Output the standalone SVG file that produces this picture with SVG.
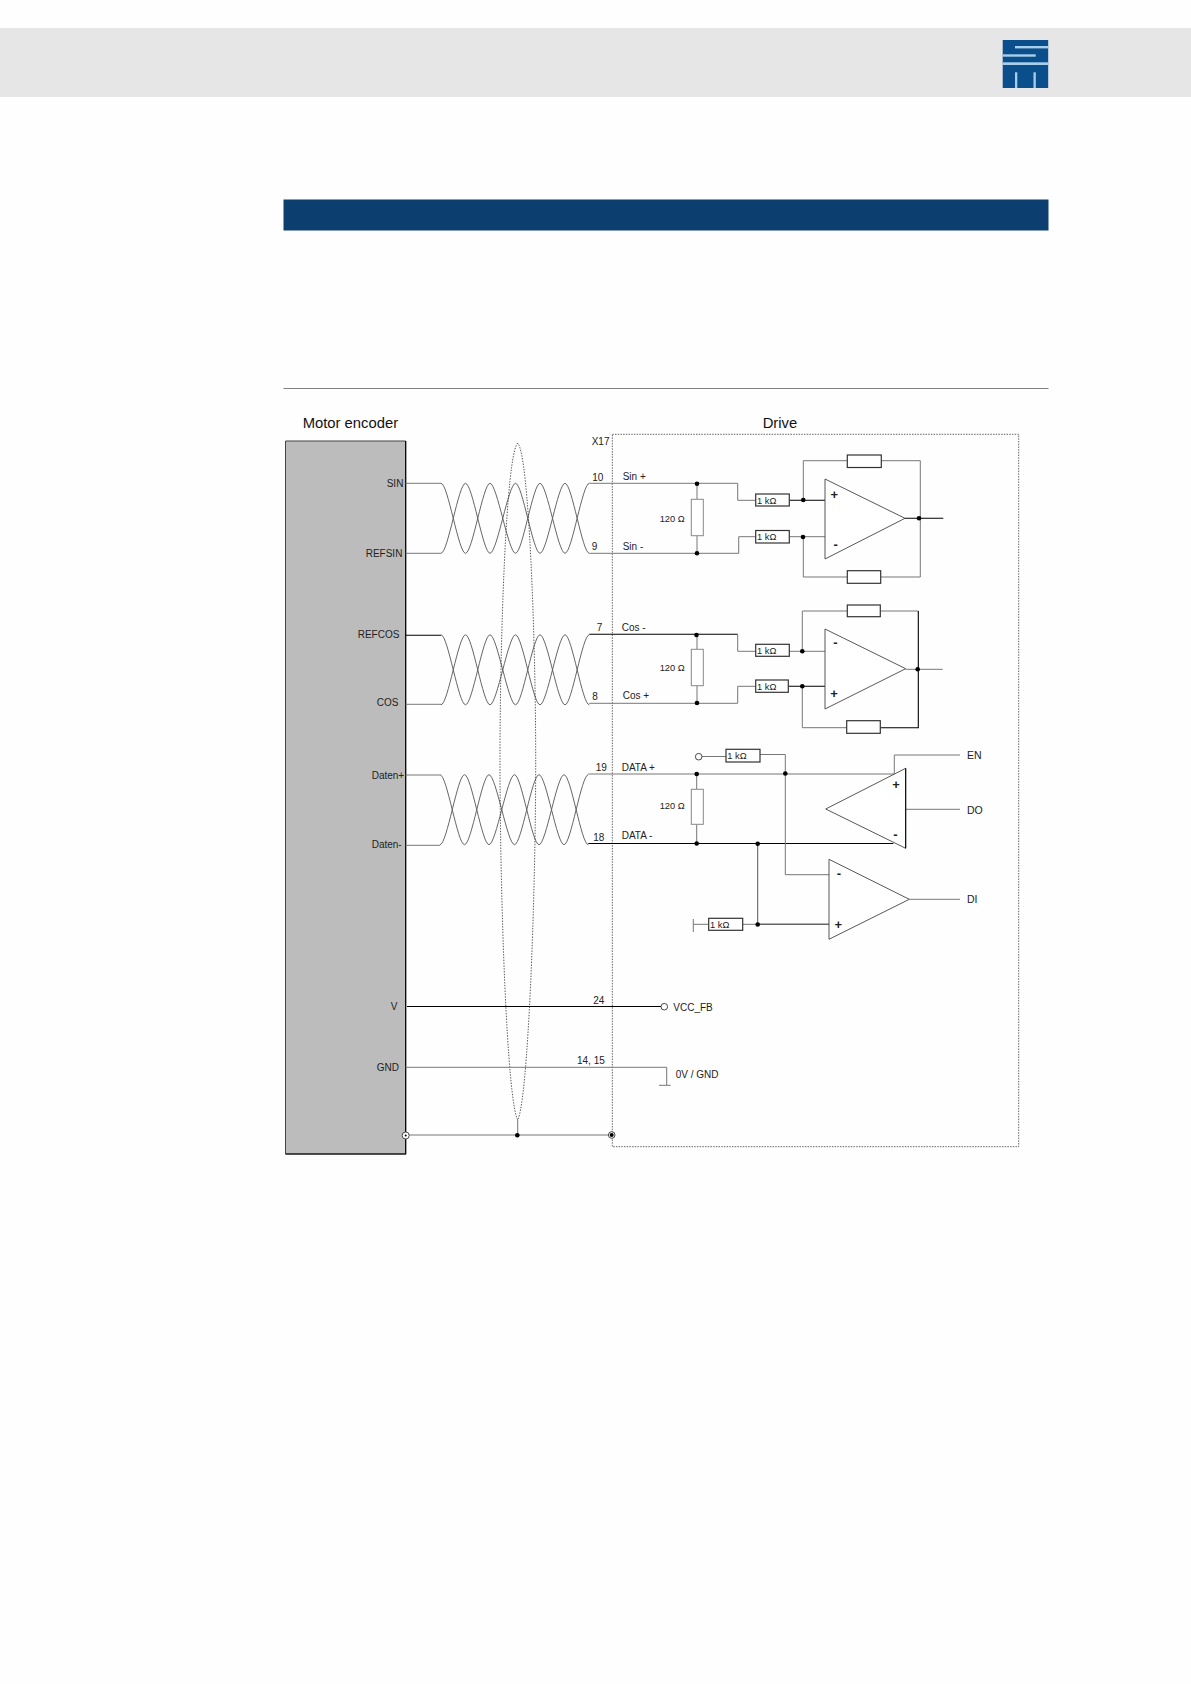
<svg xmlns="http://www.w3.org/2000/svg" width="1191" height="1684" viewBox="0 0 1191 1684">
<defs>
<style>
text{font-family:"Liberation Sans",Arial,sans-serif;font-size:10px;fill:#222}
.t{font-size:14.800px;fill:#111}
.s{font-size:9.300px}
.l{font-size:10.500px}
.b{font-size:13px;font-weight:bold;fill:#222}
.w,.g,.k,.tw,.sh,.sd{fill:none}
.w{stroke:#555;stroke-width:1}
.g{stroke:#777;stroke-width:1}
.k{stroke:#000;stroke-width:1.1}
.tw{stroke:#555;stroke-width:.9}
.sh{stroke:#444;stroke-width:.9;stroke-dasharray:1.4 1.4}
.sd{stroke:#555;stroke-width:.9;stroke-dasharray:1.5 1.2}
.r{fill:#fff;stroke:#333;stroke-width:1.2}
.r1{fill:#fff;stroke:#888;stroke-width:1}
.tri{fill:#fff;stroke:#444;stroke-width:.9}
.d{fill:#000}
.o{fill:#fff;stroke:#333;stroke-width:.9}
.lg{fill:#a8cfea}
</style>
<path id="twist" d="M0 0C7 0 17.500 70 24.500 70S42 0 49 0S67.500 70 74.500 70S92 0 99 0S117 70 124 70S141.300 0 148.300 0"/>
<path id="twist2" d="M0 70C7 70 17.500 0 24.500 0S42 70 49 70S67.500 0 74.500 0S92 70 99 70S117 0 124 0S141.300 70 148.300 70"/>
</defs>
<rect width="1191" height="1684" fill="#fefefe"/>
<g id="header">
<rect y="28" width="1191" height="69" fill="#e6e6e6"/>
<g id="logo">
<rect x="1002.700" y="40" width="45.500" height="48" fill="#0a4f8c"/>
<rect class="lg" x="1015" y="46" width="33.200" height="2.400"/>
<rect class="lg" x="1002.700" y="54.300" width="33" height="2.400"/>
<rect class="lg" x="1002.700" y="62.300" width="45.500" height="2.700"/>
<rect class="lg" x="1015" y="72.300" width="2.300" height="15.700"/>
<rect class="lg" x="1033.500" y="72.300" width="2.300" height="15.700"/>
</g>
</g>
<rect id="title-bar" x="283.500" y="199.500" width="765" height="31" fill="#0c3f70"/>
<line id="rule" x1="283.500" y1="388.500" x2="1048.500" y2="388.500" stroke="#808080" stroke-width="1"/>
<g id="motor-encoder">
<rect x="285.500" y="441" width="120.200" height="713" fill="#bcbcbc"/>
<path d="M285.500 1154V441H405.700V1154H285.500" fill="none" stroke="#444" stroke-width="1"/>
<path d="M405.700 441V1154H285.500" fill="none" stroke="#000" stroke-width="1.100"/>
<text class="t" x="302.700" y="428">Motor encoder</text>
<text x="386.700" y="486.700">SIN</text>
<text x="365.700" y="556.700">REFSIN</text>
<text x="357.700" y="638.300">REFCOS</text>
<text x="376.700" y="706">COS</text>
<text x="371.700" y="779">Daten+</text>
<text x="371.700" y="848">Daten-</text>
<text x="390.700" y="1010">V</text>
<text x="376.700" y="1071">GND</text>
</g>
<g id="drive">
<rect x="612.300" y="434.300" width="406.400" height="712.400" class="sd"/>
<text class="t" x="762.700" y="428">Drive</text>
<text x="591.700" y="445">X17</text>
</g>
<g id="connectors">
<g id="twisted-pairs">
<use href="#twist" x="441" y="483.300" class="tw"/><use href="#twist2" x="441" y="483.300" class="tw"/>
<use href="#twist" x="441" y="634.800" class="tw"/><use href="#twist2" x="441" y="634.800" class="tw"/>
<use href="#twist" x="440" y="774.700" class="tw"/><use href="#twist2" x="440" y="774.700" class="tw"/>
</g>
<path class="sh" d="M517.700 443C506 455 500 640 500 760C500 900 507 1100 517.700 1120C528 1100 535.700 900 535.700 760C535.700 640 529 455 517.700 443"/>
<path class="g" d="M517.700 1120V1135"/>
<path class="g" d="M405.700 483.300H441M589.300 483.300H737.700V500.300H755.700M405.700 553.300H441M589.300 553.300H738.700V536.700H755.700"/>
<path class="k" d="M405.700 635.300H441"/>
<path class="k" d="M589.300 634.300H737.700"/>
<path class="g" d="M737.700 634.300V651.300H755.700"/>
<path class="g" d="M405.700 704.300H441M589.300 703.300H737.700V686.300H755.700"/>
<path class="g" d="M405.700 775H440M405.700 845.300H440"/>
<path class="g" d="M588.300 774H894.300"/>
<path class="k" d="M588.300 843.500H893.300"/>
<path class="k" d="M407 1006.500H661"/>
<path class="g" d="M405.700 1067.300H666.700V1085.300M659 1085.300H670.700"/>
<path class="g" d="M405.700 1135H612"/>
<path class="g" d="M697 483.700V499.300M697 535.700V553.300M697 635V649.300M697 685.700V703M696.700 774V789.300M696.700 824.300V843.500"/>
<path class="k" d="M789.300 500.300H825"/>
<path class="g" d="M789.300 536.700H825"/>
<path class="g" d="M803.300 500.300V460.700H847.300M881.300 460.700H920.300V577H880.700M847.300 577H803.300V536.700"/>
<path class="k" d="M905 518.300H943.300"/>
<path class="g" d="M789.300 651.300H825"/>
<path class="k" d="M788.300 686.300H825"/>
<path class="g" d="M802.300 651.300V611H847.300M880.300 611H918.300"/>
<path class="k" d="M918.300 611V727.700H880.300"/>
<path class="g" d="M846.700 727.700H802.300V686.300"/>
<path class="g" d="M905.700 669.300H942.700"/>
<path class="g" d="M702 756.500H726M760 754.500H785.300V874.700H829"/>
<path class="g" d="M894.300 774V755H960M905.700 809.300H960M909.300 899.300H960"/>
<path class="w" d="M757.700 843.700V924.300"/>
<path d="M757.700 924.300H829" fill="none" stroke="#666" stroke-width="1.600"/>
<path class="g" d="M693.300 924.300H708.700M742.700 924.300H757.700M693.300 919V932"/>
</g>
<g id="term-1"><rect class="r1" x="691.300" y="499.300" width="12" height="36.400"/><text class="s" x="659.700" y="521.700">120 Ω</text><circle class="d" cx="697" cy="483.700" r="2.300"/><circle class="d" cx="697" cy="553.300" r="2.300"/></g>
<g id="term-2"><rect class="r1" x="691.300" y="649.300" width="12" height="36.400"/><text class="s" x="659.700" y="670.700">120 Ω</text><circle class="d" cx="696.500" cy="635" r="2.300"/><circle class="d" cx="697" cy="703" r="2.300"/></g>
<g id="term-3"><rect class="r1" x="691.300" y="789.300" width="12" height="35"/><text class="s" x="659.700" y="809.300">120 Ω</text><circle class="d" cx="696.700" cy="774" r="2.300"/><circle class="d" cx="696.700" cy="843.500" r="2.300"/></g>
<g id="amp-sin">
<polygon class="tri" points="825,479 825,559 905,518.300"/>
<text class="b" x="834.300" y="499" text-anchor="middle">+</text><text class="b" x="835.700" y="549" text-anchor="middle">-</text>
<rect class="r" x="755.700" y="494" width="33.600" height="12"/><text class="s" x="757" y="503.500">1 kΩ</text>
<rect class="r" x="755.700" y="530.500" width="33.600" height="12.500"/><text class="s" x="757" y="540.300">1 kΩ</text>
<rect class="r" x="847.300" y="455" width="34" height="12.500"/>
<rect class="r" x="847.300" y="570.700" width="33.400" height="12.600"/>
<circle class="d" cx="803.300" cy="500" r="2.300"/><circle class="d" cx="803" cy="537" r="2.300"/><circle class="d" cx="919" cy="518.300" r="2.300"/>
</g>
<g id="amp-cos">
<polygon class="tri" points="825,629 825,709 905.700,668.700"/>
<text class="b" x="835.300" y="647" text-anchor="middle">-</text><text class="b" x="834" y="698" text-anchor="middle">+</text>
<rect class="r" x="755.700" y="644.300" width="33.600" height="12"/><text class="s" x="757" y="653.800">1 kΩ</text>
<rect class="r" x="755.700" y="680" width="32.600" height="12.300"/><text class="s" x="757" y="689.500">1 kΩ</text>
<rect class="r" x="847.300" y="605" width="33" height="11.700"/>
<rect class="r" x="846.700" y="720.700" width="33.600" height="12.600"/>
<circle class="d" cx="802.300" cy="651.300" r="2.300"/><circle class="d" cx="802.300" cy="686.300" r="2.300"/><circle class="d" cx="917.700" cy="669.300" r="2.300"/>
</g>
<g id="amp-do">
<polygon class="tri" points="905.700,768.300 905.700,848.300 825.700,809"/>
<path d="M905.700 768.300V848.300" stroke="#000" stroke-width="1" fill="none"/>
<text class="b" x="896" y="788.500" text-anchor="middle">+</text><text class="b" x="895.300" y="838.500" text-anchor="middle">-</text>
<rect class="r" x="726" y="749.300" width="34" height="12.700"/><text class="s" x="727.300" y="759">1 kΩ</text>
<circle class="o" cx="698.700" cy="756.700" r="3.300"/>
<circle class="d" cx="785.300" cy="773.500" r="2.300"/>
<text class="l" x="967" y="759.300">EN</text>
<text class="l" x="967" y="814">DO</text>
</g>
<g id="amp-di">
<polygon class="tri" points="829,859.300 829,939.300 909.300,899.300"/>
<text class="b" x="839" y="878" text-anchor="middle">-</text><text class="b" x="838.300" y="928.500" text-anchor="middle">+</text>
<rect class="r" x="708.700" y="918.300" width="34" height="12"/><text class="s" x="710" y="928">1 kΩ</text>
<circle class="d" cx="757.700" cy="843.700" r="2.300"/><circle class="d" cx="757.700" cy="924.500" r="2.300"/>
<text class="l" x="967" y="903.300">DI</text>
</g>
<g id="pins">
<text x="592.300" y="481.300">10</text><text x="591.700" y="549.700">9</text><text x="596.700" y="631">7</text><text x="592.300" y="700">8</text><text x="595.700" y="771">19</text><text x="593.300" y="840.700">18</text>
<text x="622.700" y="479.800">Sin +</text><text x="622.700" y="549.800">Sin -</text><text x="621.700" y="630.700">Cos -</text><text x="622.700" y="698.800">Cos +</text><text x="621.700" y="770.800">DATA +</text><text x="621.700" y="839.300">DATA -</text>
<text x="593.300" y="1004">24</text><text x="577" y="1064">14, 15</text>
</g>
<g id="vcc"><circle class="o" cx="664.300" cy="1006.700" r="3.300"/><text x="673.300" y="1010.700">VCC_FB</text></g>
<g id="gnd"><text x="675.700" y="1078.300">0V / GND</text></g>
<g id="shield-terminals">
<circle class="o" cx="405.700" cy="1135.500" r="3.500"/><circle class="d" cx="405.700" cy="1135.500" r="1"/>
<circle class="d" cx="517.300" cy="1135.300" r="2.300"/>
<circle class="o" cx="611.700" cy="1135" r="3.300"/><circle class="d" cx="611.700" cy="1135" r="2"/>
</g>
</svg>
